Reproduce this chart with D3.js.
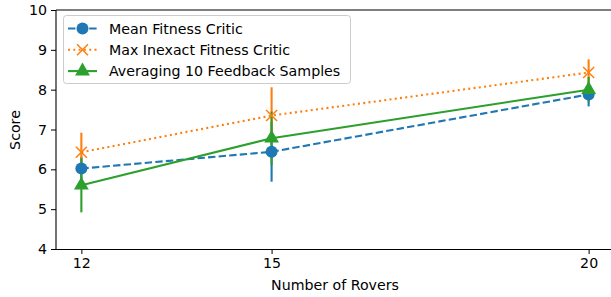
<!DOCTYPE html>
<html>
<head>
<meta charset="utf-8">
<script src="https://cdn.jsdelivr.net/npm/d3@7"></script>
<style>
  body { margin: 0; background: #fff; }
  text { font-family: "DejaVu Sans", sans-serif; }
</style>
</head>
<body>
<div id="chart"></div>
<script>
// rovers on the x axis, one score + std per method
const rovers = [12, 15, 20];
const xTicks = [12, 15, 20];
const yTicks = [4, 5, 6, 7, 8, 9, 10];

const meanScore = [6.02, 6.44, 7.88];
const meanErr = [0.30, 0.75, 0.30];
const maxScore = [6.43, 7.35, 8.43];
const maxErr = [0.49, 0.71, 0.33];
const avgScore = [5.60, 6.78, 8.00];
const avgErr = [0.68, 0.67, 0.32];

const seriesNames = ["Mean Fitness Critic", "Max Inexact Fitness Critic", "Averaging 10 Feedback Samples"];

const series = [
  {name: seriesNames[0], vals: meanScore, err: meanErr, color: "#1f77b4", dash: "7.4,3.2", mark: "circle"},
  {name: seriesNames[1], vals: maxScore, err: maxErr, color: "#ff7f0e", dash: "2,3.3", mark: "x"},
  {name: seriesNames[2], vals: avgScore, err: avgErr, color: "#2ca02c", dash: null, mark: "tri"}
];

const W = 611, H = 297;
const FS = 14.2;
const svg = d3.select("#chart").append("svg").attr("width", W).attr("height", H);

const x = d3.scaleLinear().domain([11.6, 20.4]).range([56, 614]);
const y = d3.scaleLinear().domain([4, 10]).range([249, 10]);

// axes
svg.append("g").attr("transform", "translate(0,249)")
  .call(d3.axisBottom(x).tickValues(xTicks).tickSize(5).tickPadding(4).tickFormat(d3.format("d")))
  .call(g => g.select(".domain").remove())
  .call(g => g.selectAll("text").attr("font-size", FS).attr("fill", "#000").attr("font-family", "DejaVu Sans"));
svg.append("g").attr("transform", "translate(56,0)")
  .call(d3.axisLeft(y).tickValues(yTicks).tickSize(5).tickPadding(4).tickFormat(d3.format("d")))
  .call(g => g.select(".domain").remove())
  .call(g => g.selectAll("text").attr("font-size", FS).attr("fill", "#000").attr("font-family", "DejaVu Sans"));

// spines
svg.append("line").attr("x1", 56).attr("x2", 614).attr("y1", 249.5).attr("y2", 249.5).attr("stroke", "#000").attr("stroke-width", 1);
svg.append("line").attr("x1", 56).attr("x2", 56).attr("y1", 10).attr("y2", 249.5).attr("stroke", "#000").attr("stroke-width", 1.1);
svg.append("line").attr("x1", 56).attr("x2", 614).attr("y1", 10).attr("y2", 10).attr("stroke", "#000").attr("stroke-width", 1.1);

// labels
svg.append("text").attr("x", 335).attr("y", 290).attr("text-anchor", "middle").attr("font-size", FS).text("Number of Rovers");
svg.append("text").attr("transform", "translate(20,130) rotate(-90)").attr("text-anchor", "middle").attr("font-size", FS).text("Score");

function marker(g, s, cx, cy) {
  if (s.mark === "circle") {
    g.append("circle").attr("cx", cx).attr("cy", cy).attr("r", 6).attr("fill", s.color);
  } else if (s.mark === "x") {
    const r = 5.5;
    g.append("path").attr("d", `M${cx-r},${cy-r}L${cx+r},${cy+r}M${cx-r},${cy+r}L${cx+r},${cy-r}`)
      .attr("stroke", s.color).attr("stroke-width", 1.5).attr("fill", "none");
  } else {
    g.append("path").attr("d", d3.symbol().type(d3.symbolTriangle).size(95)())
      .attr("transform", `translate(${cx},${cy})`).attr("fill", s.color);
  }
}

const plot = svg.append("g");
// error bars
series.forEach(s => {
  plot.selectAll(null).data(rovers).join("line")
    .attr("x1", d => x(d)).attr("x2", d => x(d))
    .attr("y1", (d, i) => y(s.vals[i] - s.err[i]))
    .attr("y2", (d, i) => y(s.vals[i] + s.err[i]))
    .attr("stroke", s.color).attr("stroke-width", 2.1);
});
// lines
const line = d3.line().x((d, i) => x(rovers[i])).y(d => y(d));
series.forEach(s => {
  plot.append("path").datum(s.vals).attr("d", line)
    .attr("fill", "none").attr("stroke", s.color).attr("stroke-width", 2.1)
    .attr("stroke-dasharray", s.dash);
});
// markers
series.forEach(s => {
  rovers.forEach((r, i) => marker(plot, s, x(r), y(s.vals[i])));
});

// legend
const lg = svg.append("g");
lg.append("rect").attr("x", 63.5).attr("y", 15.5).attr("width", 287).attr("height", 68).attr("rx", 3)
  .attr("fill", "#fff").attr("fill-opacity", 0.8).attr("stroke", "#ccc");
series.forEach((s, i) => {
  const ly = 28.5 + i * 21.3;
  lg.append("line").attr("x1", 68).attr("x2", 97).attr("y1", ly).attr("y2", ly)
    .attr("stroke", s.color).attr("stroke-width", 2.1).attr("stroke-dasharray", s.dash);
  marker(lg, s, 82.5, ly);
  lg.append("text").attr("x", 109).attr("y", ly + 5).attr("font-size", FS).text(s.name);
});
</script>
</body>
</html>
